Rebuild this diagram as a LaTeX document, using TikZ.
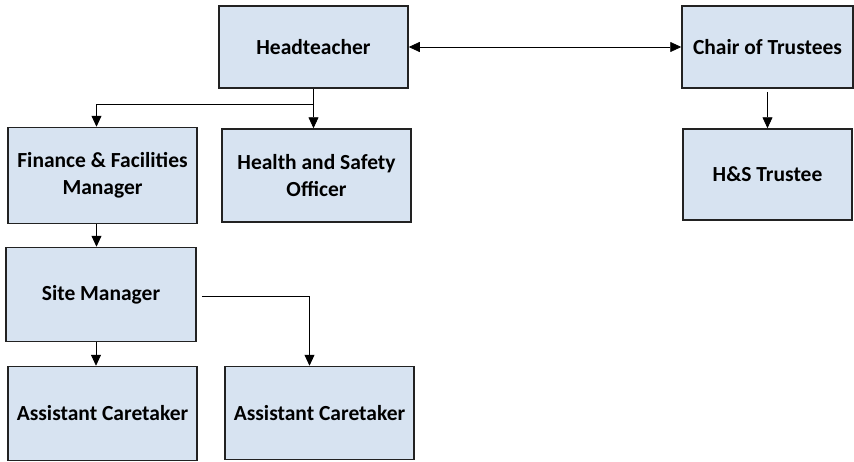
\documentclass[tikz,border=0pt]{standalone}
\usepackage{fontspec}
\setmainfont{Carlito}
\usetikzlibrary{arrows.meta,positioning}
\definecolor{boxfill}{HTML}{D7E3F1}
\definecolor{boxline}{HTML}{222222}

\begin{document}
\begin{tikzpicture}[x=1pt,y=-1pt,on grid,
    >={Triangle[length=11pt,width=10pt]},
    role/.style={draw=boxline,line width=1.5pt,fill=boxfill,inner sep=0pt,
                 align=center,font=\fontsize{21.5}{27}\selectfont\bfseries},
    link/.style={line width=0.8pt}]
    \useasboundingbox (0,0) rectangle (854,461);
               \node[role, minimum width=189pt, minimum height=82pt] (head) at (313.5,47) {Headteacher};
               \node[role, minimum width=171pt, minimum height=82pt] (chair) [right=454pt of head] {Chair of Trustees};
               \node[role, minimum width=169pt, minimum height=91pt] (hst) [below=127.5pt of chair] {H\&S Trustee};
               \node[role, minimum width=189pt, minimum height=93pt] (hso) [below=128.5pt of head, xshift=3pt] {Health and Safety\\Officer};
               \node[role, minimum width=189pt, minimum height=96pt] (ffm) [left=214pt of hso] {Finance \& Facilities\\Manager};
               \node[role, minimum width=190pt, minimum height=94pt] (site) [below=119pt of ffm, xshift=-1.5pt] {Site Manager};
               \node[role, minimum width=189pt, minimum height=94pt] (acl) [below=119pt of site, xshift=1.5pt] {Assistant Caretaker};
               \node[role, minimum width=189pt, minimum height=93pt] (acr) [right=217pt of acl, yshift=0.5pt] {Assistant Caretaker};
               % branch points of the connectors
               \coordinate (split) at ([yshift=-16pt]head.south);
               \coordinate (ffmtop) at ([xshift=-6pt]ffm.north);
               \coordinate (acrtop) at ([xshift=-10pt]acr.north);
		\path[link]
			(head.east)	edge [<->] (chair.west)
			(head.south)	edge [->] (head.south |- hso.north)
			([yshift=-3pt]chair.south)	edge [->] (chair.south |- hst.north)
			([xshift=-6pt]ffm.south)	edge [->] ([xshift=-6pt]ffm.south |- site.north)
			([xshift=-5pt]site.south)	edge [->] ([xshift=-5pt]site.south |- acl.north);
		\draw[link,->] (split) -| (ffmtop);
		\draw[link,->] ([xshift=5pt,yshift=-2pt]site.east) -| (acrtop);
            \end{tikzpicture}
\end{document}
